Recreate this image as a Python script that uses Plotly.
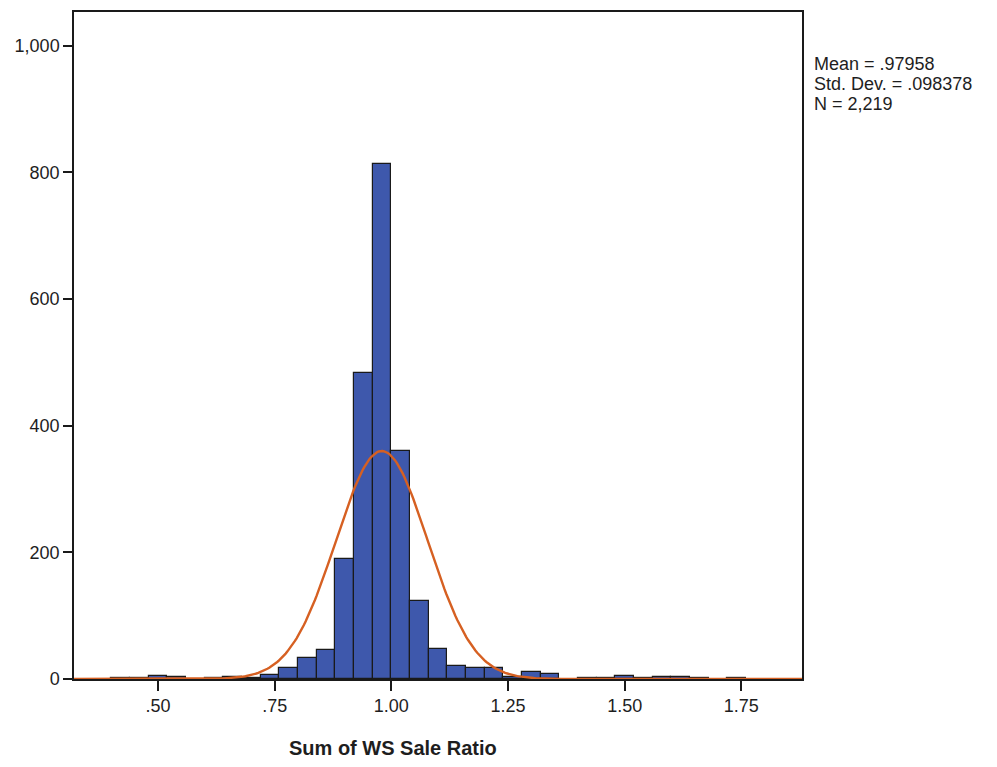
import numpy as np
import plotly.graph_objects as go

# Histogram bins (left edges), width 0.04
bin_left = [0.40, 0.44, 0.48, 0.52, 0.60, 0.64, 0.68, 0.72, 0.76, 0.80, 0.84,
            0.88, 0.92, 0.96, 1.00, 1.04, 1.08, 1.12, 1.16, 1.20, 1.24,
            1.28, 1.32, 1.40, 1.44, 1.48, 1.52, 1.56, 1.60, 1.64, 1.72]
counts = [1, 1, 4, 3, 1, 3, 2, 7, 17, 33, 46,
          189, 483, 813, 360, 123, 47, 20, 17, 17, 3,
          11, 8, 1, 1, 5, 1, 3, 3, 1, 1]
bin_width = 0.04

mean_val = 0.97958
std_val = 0.098378
n_val = 2219
stat_lines = ["Mean = .97958", "Std. Dev. = .098378", "N = 2,219"]

x_tickvals = [0.50, 0.75, 1.00, 1.25, 1.50, 1.75]
x_ticktext = [".50", ".75", "1.00", "1.25", "1.50", "1.75"]
y_tickvals = [0, 200, 400, 600, 800, 1000]
y_ticktext = ["0", "200", "400", "600", "800", "1,000"]

x_range = [0.32, 1.88]
y_range = [0, 1053]

centers = [b + bin_width / 2 for b in bin_left]

# Normal curve from the stated mean, std. dev. and N
xc = np.linspace(x_range[0], x_range[1], 400)
yc = n_val * bin_width / (std_val * np.sqrt(2 * np.pi)) * np.exp(-0.5 * ((xc - mean_val) / std_val) ** 2)

font_family = "Liberation Sans, Arial, sans-serif"
txt_color = "#1e1e1e"

fig = go.Figure()
fig.add_trace(go.Bar(
    x=centers, y=counts, width=bin_width,
    marker=dict(color="rgb(62,88,172)", line=dict(color="#1a1a1a", width=1.2)),
    showlegend=False, hoverinfo="x+y",
))
fig.add_trace(go.Scatter(
    x=xc, y=yc, mode="lines",
    line=dict(color="rgb(214,96,34)", width=2.4),
    showlegend=False, hoverinfo="skip",
))

annotations = [
    dict(text="<b>Sum of WS Sale Ratio</b>", xref="paper", yref="paper",
         x=0.438, y=-0.103, xanchor="center", yanchor="middle",
         showarrow=False, font=dict(size=20, family=font_family, color=txt_color)),
]
for i, line in enumerate(stat_lines):
    annotations.append(dict(
        text=line, xref="paper", yref="paper",
        x=1.0137, y=0.922 - i * 0.0299, xanchor="left", yanchor="middle",
        showarrow=False, font=dict(size=18, family=font_family, color=txt_color)))

fig.update_layout(
    width=997, height=767,
    margin=dict(l=66, r=203, t=2, b=96),
    paper_bgcolor="white", plot_bgcolor="white",
    bargap=0,
    font=dict(family=font_family, size=18, color=txt_color),
    xaxis=dict(
        range=x_range, tickvals=x_tickvals, ticktext=x_ticktext,
        showgrid=False, zeroline=False,
        showline=True, linecolor="#1a1a1a", linewidth=1.5, mirror=True,
        ticks="outside", ticklen=10, tickwidth=1.5, tickcolor="#1a1a1a",
        tickfont=dict(size=18, family=font_family, color=txt_color),
    ),
    yaxis=dict(
        range=y_range, tickvals=y_tickvals, ticktext=y_ticktext,
        showgrid=False, zeroline=False,
        showline=True, linecolor="#1a1a1a", linewidth=1.5, mirror=True,
        ticks="outside", ticklen=9, tickwidth=1.5, tickcolor="#1a1a1a",
        tickfont=dict(size=18, family=font_family, color=txt_color),
    ),
    annotations=annotations,
)

fig.write_html("out.html")
